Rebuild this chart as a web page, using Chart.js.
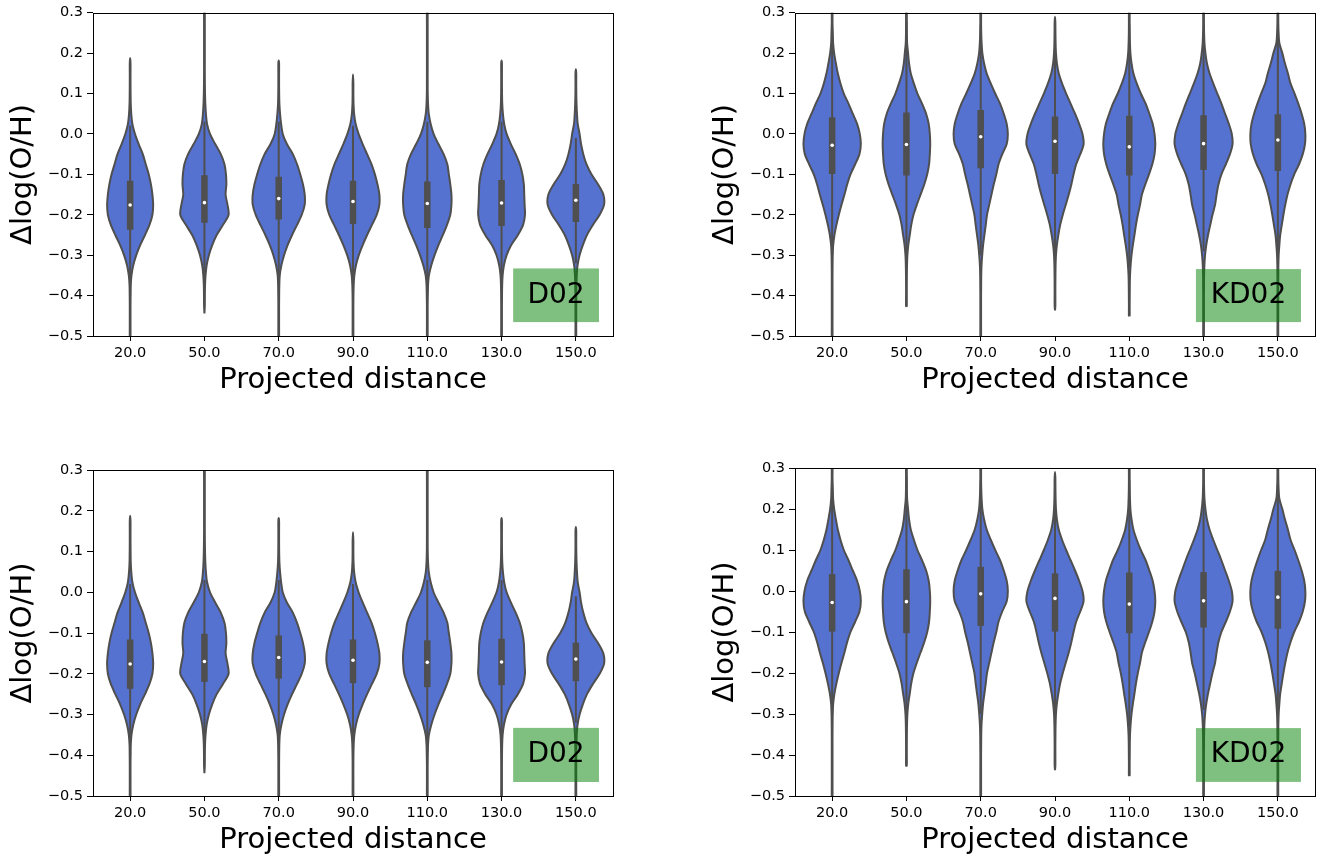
<!DOCTYPE html>
<html>
<head>
<meta charset="utf-8">
<script src="https://cdn.jsdelivr.net/npm/chart.js@4.4.0/dist/chart.umd.min.js"></script>
<style>
  html, body { margin: 0; padding: 0; background: #fff; }
  #page { position: relative; width: 1327px; height: 860px; }
  #page canvas { position: absolute; }
</style>
</head>
<body>
<div id="page">
  <canvas id="c1" width="625" height="400" style="left:0px;top:0px"></canvas>
  <canvas id="c2" width="627" height="400" style="left:700px;top:0px"></canvas>
  <canvas id="c3" width="625" height="420" style="left:0px;top:440px"></canvas>
  <canvas id="c4" width="627" height="420" style="left:700px;top:440px"></canvas>
</div>
<script>
// categories on the x axis
const categories = ['20.0', '50.0', '70.0', '90.0', '110.0', '130.0', '150.0'];
const yTicks = [0.3, 0.2, 0.1, 0.0, -0.1, -0.2, -0.3, -0.4, -0.5];

// levels at which the violin half-widths were read (top to bottom)
const levels = [0.3, 0.275, 0.25, 0.225, 0.2, 0.175, 0.15, 0.125, 0.1, 0.075, 0.05, 0.025, 0.0,
  -0.025, -0.05, -0.075, -0.1, -0.125, -0.15, -0.175, -0.2, -0.225, -0.25, -0.275,
  -0.3, -0.325, -0.35, -0.375, -0.4, -0.425, -0.45, -0.475, -0.5];

// D02 : half-widths of each violin (in 1/100 of a category slot)
const d02Widths = [
  [null,null,null,null,null, 0.5,0.5,0.5,0.6,0.8, 1.5,3,6.5,11.5,17,21, 25,28,30,31, 30,26,20,13.5, 8.2,4.2,1.8,0.8, 0.6,0.5,0.5,0.5,0.5],
  [0.5,0.5,0.5,0.5,0.5, 0.5,0.5,0.6,0.8,1.2, 2,3.5,7.5,14.5,22,27, 29,29.5,28.5,31, 32.5,25,16.5,10.5, 6,3,1.5,0.8, 0.6,0.5,null,null,null],
  [null,null,null,null,null, 0.5,0.5,0.5,0.6,0.9, 1.8,3.2,5.4,11,19,24.7, 29,32.7,35,35, 31,24.7,18,12, 7.2,3.6,1.4,0.8, 0.6,0.5,0.5,0.5,0.5],
  [null,null,null,null,null, null,null,0.5,0.5,0.7, 1.5,3.5,7.5,13,19,25, 29.5,33,35.5,35.5, 32,25.5,19,13, 7.8,4,1.8,0.9, 0.6,0.5,0.5,0.5,0.5],
  [0.5,0.5,0.5,0.5,0.5, 0.5,0.5,0.5,0.6,1, 2,4.5,8.5,15,22,27, 29,31,32.5,32.5, 31,26.5,21,15, 9.8,5.4,2.2,1, 0.7,0.5,0.5,0.5,0.5],
  [null,null,null,null,null, 0.5,0.5,0.5,0.6,0.9, 1.8,3.5,6.8,12.5,19,24.5, 28,30,30.5,31, 31.5,29,22,13, 6.8,3.2,1.4,0.8, 0.6,0.5,0.5,0.5,0.5],
  [null,null,null,null,null, null,0.5,0.5,0.6,0.9, 1.5,2.5,5,7,10,14.3, 21,30,37,38, 32,23,15,9.4, 5,2.3,1.2,0.8, 0.6,0.5,0.5,0.5,0.5]
];
const d02Top = [0.188, 0.32, 0.182, 0.147, 0.32, 0.182, 0.16];
const d02Bottom = [-0.52, -0.444, -0.52, -0.52, -0.52, -0.52, -0.52];
const d02Q3 = [-0.116, -0.102, -0.106, -0.116, -0.118, -0.114, -0.124];
const d02Q1 = [-0.237, -0.220, -0.212, -0.223, -0.233, -0.228, -0.218];
const d02Median = [-0.176, -0.170, -0.160, -0.167, -0.172, -0.171, -0.164];
const d02WhiskerHigh = [0.02, 0.03, 0.03, 0.02, 0.03, 0.03, -0.01];
const d02WhiskerLow = [-0.40, -0.37, -0.37, -0.38, -0.39, -0.38, -0.32];

// KD02
const kd02Widths = [
  [0.5,0.5,0.9,1.3,2.7, 5,7.6,11.2,15.7,22, 27.8,33.6,37.2,38.6,36.8,31, 24.7,20.2,16.6,12.6, 9,5.8,3.1,1.4, 0.8,0.6,0.5,0.5, 0.5,0.5,0.5,0.5,0.5],
  [0.5,0.5,0.6,0.9,2.2, 3.5,5.8,10,14.8,21, 26.5,30,31.5,32,31.5,30.5, 28,24,19,14, 9.5,6.5,4.5,2.5, 1.3,0.8,0.6,0.5, 0.5,0.5,null,null,null],
  [0.5,0.5,0.7,1.2,2.2, 4.5,8,13.5,19.5,26, 31,35,36.5,35,29,24, 21,17.5,14.5,11.5, 8.5,6.8,5,3.2, 2,1.1,0.7,0.6, 0.5,0.5,0.5,0.5,0.5],
  [null,0.5,0.6,0.8,1.3, 2.5,5,9.5,15,21, 27,32.5,37,38.5,34,28.5, 25,22,18.5,14.5, 10.5,7,4.5,2.5, 1.3,0.8,0.6,0.5, 0.5,0.5,null,null,null],
  [0.5,0.5,0.6,0.9,1.5, 3,5.5,10,15.5,22, 27,31.5,34,35,34,31, 26.5,21.5,17,14.5, 11.5,9,7,4.8, 3,1.8,1,0.7, 0.6,0.5,0.5,null,null],
  [0.5,0.5,0.7,1.2,2.5, 4.5,8,13,18.5,24, 29,34,38,39,35.5,30, 24,20,17.5,15.5, 12,9,6,3.6, 2,1.1,0.7,0.6, 0.5,0.5,0.5,0.5,0.5],
  [0.5,0.6,1,2,6, 9.5,13.5,17,22.5,27.5, 32,35.5,37,36.5,33.5,28.5, 22,17,13,10, 7.5,5.3,3.2,2, 1.1,0.7,0.6,0.5, 0.5,0.5,0.5,0.5,0.5]
];
const kd02Top = [0.32, 0.32, 0.32, 0.29, 0.32, 0.32, 0.32];
const kd02Bottom = [-0.52, -0.428, -0.52, -0.437, -0.451, -0.52, -0.52];
const kd02Q3 = [0.041, 0.053, 0.059, 0.043, 0.045, 0.046, 0.049];
const kd02Q1 = [-0.099, -0.103, -0.085, -0.099, -0.103, -0.089, -0.092];
const kd02Median = [-0.028, -0.026, -0.007, -0.018, -0.032, -0.024, -0.015];
const kd02WhiskerHigh = [0.25, 0.28, 0.27, 0.25, 0.27, 0.25, 0.26];
const kd02WhiskerLow = [-0.30, -0.33, -0.30, -0.31, -0.33, -0.29, -0.30];

const BLUE = '#5572d0';
const GRAY = '#4f4f4f';

Chart.defaults.font.family = '"DejaVu Sans", sans-serif';
Chart.defaults.color = '#000';

// outline of one violin: up the right side, down the left side
function violinOutline(i, widths, top, bottom) {
  const right = [];
  const left = [];
  for (let k = levels.length - 1; k >= 0; k--) {
    const w = widths[k];
    if (w == null || levels[k] >= top || levels[k] <= bottom) continue;
    right.push({x: i + w / 100, y: levels[k]});
  }
  for (let k = 0; k < levels.length; k++) {
    const w = widths[k];
    if (w == null || levels[k] >= top || levels[k] <= bottom) continue;
    left.push({x: i - w / 100, y: levels[k]});
  }
  return [{x: i, y: bottom}].concat(right, [{x: i, y: top}], left, [{x: i, y: bottom}]);
}

function buildDatasets(s) {
  const sets = [];
  categories.forEach(function (cat, i) {
    sets.push({
      data: violinOutline(i, s.widths[i], s.top[i], s.bottom[i]),
      borderColor: GRAY,
      borderWidth: 2,
      borderJoinStyle: 'round',
      backgroundColor: BLUE,
      fill: 'shape',
      tension: 0.3,
      pointRadius: 0,
      order: 3
    });
    sets.push({
      data: [{x: i, y: s.whiskerLow[i]}, {x: i, y: s.whiskerHigh[i]}],
      borderColor: GRAY,
      borderWidth: 2,
      pointRadius: 0,
      fill: false,
      order: 2
    });
    sets.push({
      data: [{x: i, y: s.q1[i]}, {x: i, y: s.q3[i]}],
      borderColor: GRAY,
      borderWidth: 6.5,
      borderCapStyle: 'butt',
      pointRadius: 0,
      fill: false,
      order: 1
    });
  });
  // white median dots
  sets.push({
    data: s.median.map(function (m, i) { return {x: i, y: m}; }),
    showLine: false,
    pointRadius: 1.8,
    pointBorderWidth: 0,
    pointBackgroundColor: '#fff',
    order: 0
  });
  return sets;
}

// frame around the axes and the green method tag
const frameAndTag = {
  id: 'frameAndTag',
  afterDatasetsDraw(chart, args, opts) {
    const ctx = chart.ctx;
    const a = chart.chartArea;
    ctx.save();
    if (opts.text) {
      const x0 = a.left + opts.box[0] * a.width;
      const x1 = a.left + opts.box[1] * a.width;
      const y0 = a.top + opts.box[2] * a.height;
      const y1 = a.top + opts.box[3] * a.height;
      ctx.fillStyle = 'rgba(0, 128, 0, 0.5)';
      ctx.fillRect(x0, y0, x1 - x0, y1 - y0);
      ctx.fillStyle = '#000';
      ctx.font = '28px "DejaVu Sans"';
      ctx.textAlign = 'center';
      ctx.textBaseline = 'middle';
      ctx.fillText(opts.text, (x0 + x1) / 2, (y0 + y1) / 2);
    }
    ctx.strokeStyle = '#000';
    ctx.lineWidth = 1;
    ctx.strokeRect(Math.round(a.left) + 0.5, Math.round(a.top) + 0.5,
      Math.round(a.right) - Math.round(a.left), Math.round(a.bottom) - Math.round(a.top));
    ctx.restore();
  }
};

const d02Series = {widths: d02Widths, top: d02Top, bottom: d02Bottom, q1: d02Q1, q3: d02Q3,
  median: d02Median, whiskerLow: d02WhiskerLow, whiskerHigh: d02WhiskerHigh};
const kd02Series = {widths: kd02Widths, top: kd02Top, bottom: kd02Bottom, q1: kd02Q1, q3: kd02Q3,
  median: kd02Median, whiskerLow: kd02WhiskerLow, whiskerHigh: kd02WhiskerHigh};

function makePanel(canvasId, series, tag, axisWidth, padTop, titlePad, box) {
  const ctx = document.getElementById(canvasId).getContext('2d');
  return new Chart(ctx, {
    type: 'line',
    data: { datasets: buildDatasets(series) },
    options: {
      responsive: false,
      animation: false,
      events: [],
      layout: { padding: { left: 0, top: padTop, right: 12, bottom: 0 } },
      plugins: {
        legend: { display: false },
        tooltip: { enabled: false },
        frameAndTag: { text: tag, box: box }
      },
      scales: {
        x: {
          type: 'linear',
          min: -0.5,
          max: 6.5,
          afterBuildTicks: function (scale) {
            scale.ticks = categories.map(function (c, i) { return {value: i}; });
          },
          afterFit: function (scale) { scale.height = 64; },
          ticks: {
            autoSkip: false,
            maxRotation: 0,
            padding: 4,
            font: { size: 14.5 },
            color: '#000',
            callback: function (v) { return categories[v]; }
          },
          grid: { drawOnChartArea: false, tickLength: 5, color: '#000' },
          border: { display: false },
          title: {
            display: true,
            text: 'Projected distance',
            font: { size: 29 },
            color: '#000',
            padding: { top: 0, bottom: 2 }
          }
        },
        y: {
          min: -0.5,
          max: 0.3,
          afterBuildTicks: function (scale) {
            scale.ticks = yTicks.map(function (v) { return {value: v}; });
          },
          afterFit: function (scale) { scale.width = axisWidth; },
          ticks: {
            padding: 4,
            font: { size: 14.5 },
            color: '#000',
            callback: function (v) {
              if (Math.abs(v) < 1e-9) return '0.0';
              return v.toFixed(1).replace('-', '\u2212');
            }
          },
          grid: { drawOnChartArea: false, tickLength: 6, color: '#000' },
          border: { display: false },
          title: {
            display: true,
            text: '\u0394log(O/H)',
            font: { size: 29 },
            color: '#000',
            padding: { top: titlePad, bottom: 0 }
          }
        }
      }
    },
    plugins: [frameAndTag]
  });
}

makePanel('c1', d02Series, 'D02', 93, 10, 6, [0.808, 0.973, 0.791, 0.957]);
makePanel('c2', kd02Series, 'KD02', 95, 8, 8, [0.771, 0.973, 0.793, 0.957]);
makePanel('c3', d02Series, 'D02', 93, 30, 6, [0.808, 0.973, 0.791, 0.957]);
makePanel('c4', kd02Series, 'KD02', 95, 28, 8, [0.771, 0.973, 0.793, 0.957]);
</script>
</body>
</html>
